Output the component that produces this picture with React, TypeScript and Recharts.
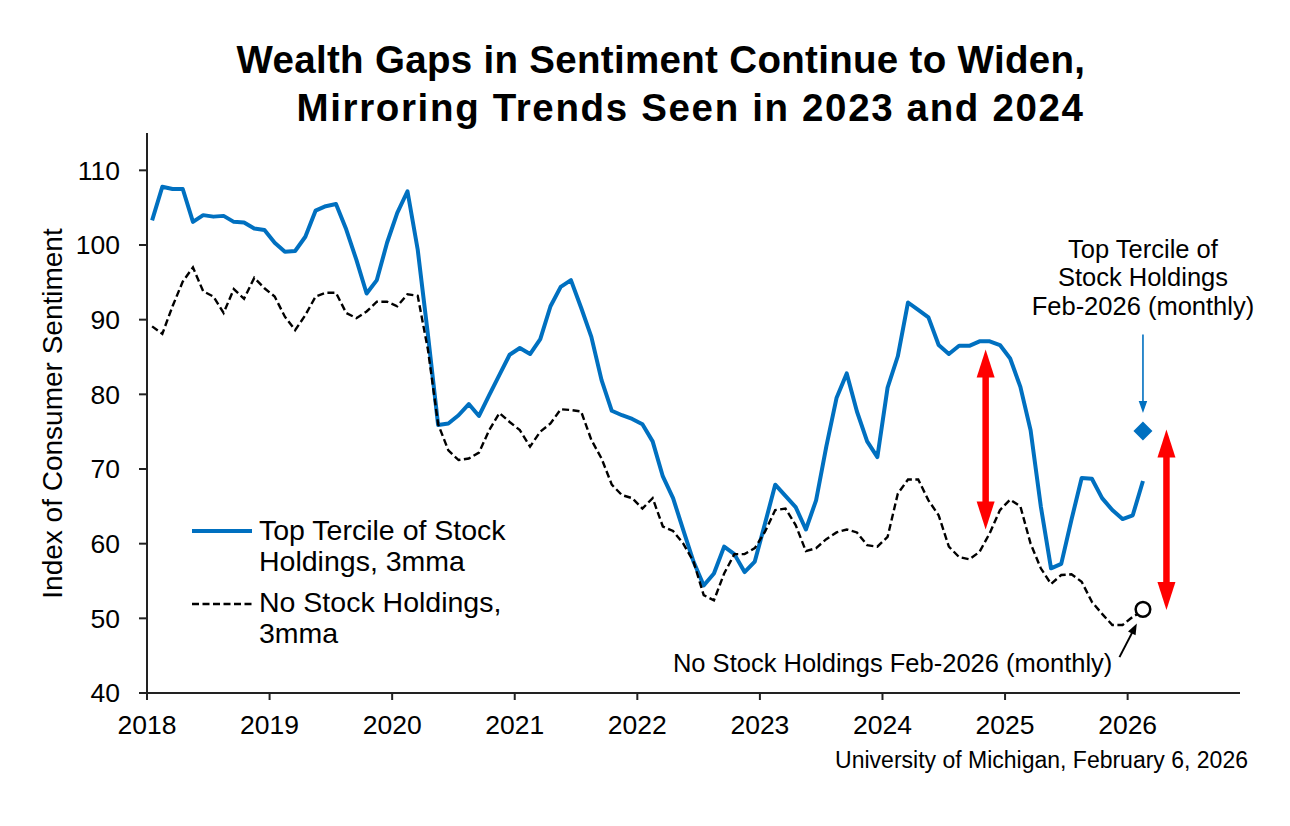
import React from "react";
import { LineChart, Line, XAxis, YAxis, ReferenceLine, ReferenceDot } from "recharts";

const FONT = "'Liberation Sans', Arial, sans-serif";

// tick labels
const years = ["2018", "2019", "2020", "2021", "2022", "2023", "2024", "2025", "2026"];
const yTicks = [40, 50, 60, 70, 80, 90, 100, 110];

// monthly index, 3-month moving average, Jan 2018 .. Feb 2026
const topTercile = [
  103.3, 107.8, 107.5, 107.5, 103.1, 104.0, 103.8, 103.9, 103.1, 103.0, 102.2, 102.0,
  100.3, 99.1, 99.2, 101.1, 104.6, 105.2, 105.5, 102.1, 98.0, 93.5, 95.3, 100.3,
  104.3, 107.2, 99.4, 88.0, 75.9, 76.1, 77.2, 78.7, 77.1, 79.9, 82.6, 85.3,
  86.2, 85.4, 87.4, 91.8, 94.4, 95.3, 91.6, 87.7, 81.9, 77.8, 77.2, 76.7,
  76.0, 73.7, 69.0, 66.1, 61.8, 57.6, 54.4, 56.0, 59.6, 58.6, 56.2, 57.6,
  62.7, 67.9, 66.4, 64.9, 61.9, 65.8, 73.0, 79.5, 82.8, 77.7, 73.7, 71.6,
  80.9, 85.1, 92.3, 91.3, 90.3, 86.6, 85.4, 86.5, 86.5, 87.1, 87.1, 86.6,
  84.8, 81.0, 75.2, 65.0, 56.7, 57.3, 63.2, 68.8, 68.7, 66.1, 64.5, 63.3,
  63.8, 68.4,
];
const noStock = [
  89.1, 88.1, 91.8, 95.1, 97.0, 93.8, 93.1, 90.9, 94.1, 92.8, 95.6, 94.2,
  93.1, 90.4, 88.6, 90.6, 93.1, 93.6, 93.6, 90.9, 90.2, 91.1, 92.4, 92.4,
  91.8, 93.4, 93.2, 86.0, 76.0, 72.5, 71.2, 71.4, 72.2, 75.2, 77.5, 76.3,
  75.2, 73.0, 75.0, 76.1, 78.0, 77.9, 77.7, 73.9, 71.4, 67.9, 66.5, 66.1,
  64.7, 66.1, 62.3, 61.7, 60.0, 57.6, 53.1, 52.4, 56.0, 58.6, 58.6, 59.4,
  61.6, 64.5, 64.7, 62.5, 59.0, 59.4, 60.6, 61.5, 61.9, 61.5, 59.8, 59.6,
  60.9, 66.7, 68.6, 68.6, 65.8, 63.8, 59.6, 58.2, 57.9, 58.9, 61.4, 64.5,
  65.9, 65.0, 60.0, 56.7, 54.6, 55.8, 55.9, 54.9, 52.2, 50.6, 49.1, 49.1,
  50.2, 51.0,
];

// Feb-2026 single-month readings
const febMonth = 97.5;
const febTop = 75.1;
const febNone = 51.2;

// annotation anchors, in chart units (months since Jan 2018, index value)
const gapArrows = [
  { m: 82.1, top: 86.0, bottom: 61.9 },
  { m: 99.8, top: 75.3, bottom: 51.1 },
];
const topNote = { m: 97.5, v: 98.3 };
const topPointer = { from: { m: 97.5, v: 88.0 }, to: { m: 97.5, v: 77.5 } };
const noneNote = { m: 94.5, v: 42.8 };
const nonePointer = { from: { m: 95.2, v: 44.8 }, to: { m: 96.9, v: 49.3 } };

const data = topTercile.map((v, i) => ({ m: i + 0.5, top: v, none: noStock[i] }));

const arrow = (color: string, width: number, headLen: number, headW: number, both: boolean) =>
  (p: any) => {
    const { x1, y1, x2, y2 } = p;
    const len = Math.hypot(x2 - x1, y2 - y1) || 1;
    const ux = (x2 - x1) / len;
    const uy = (y2 - y1) / len;
    const nx = -uy;
    const ny = ux;
    const head = (tx: number, ty: number, dx: number, dy: number) => {
      const bx = tx - dx * headLen;
      const by = ty - dy * headLen;
      return `${tx},${ty} ${bx + nx * headW / 2},${by + ny * headW / 2} ${bx - nx * headW / 2},${by - ny * headW / 2}`;
    };
    const sx = both ? x1 + ux * headLen * 0.9 : x1;
    const sy = both ? y1 + uy * headLen * 0.9 : y1;
    return (
      <g>
        <line x1={sx} y1={sy} x2={x2 - ux * headLen * 0.9} y2={y2 - uy * headLen * 0.9} stroke={color} strokeWidth={width} />
        <polygon points={head(x2, y2, ux, uy)} fill={color} />
        {both && <polygon points={head(x1, y1, -ux, -uy)} fill={color} />}
      </g>
    );
  };

const note = (lines: string[], anchor: "middle" | "end") => (p: any) => (
  <text x={p.cx} y={p.cy} textAnchor={anchor} fontSize={25.5} fontFamily={FONT} fill="#000">
    {lines.map((l, i) => (
      <tspan key={i} x={p.cx} dy={i === 0 ? 0 : 28.5}>{l}</tspan>
    ))}
  </text>
);

const diamond = (p: any) => {
  const s = 9.5;
  return <polygon points={`${p.cx},${p.cy - s} ${p.cx + s},${p.cy} ${p.cx},${p.cy + s} ${p.cx - s},${p.cy}`} fill="#0070C0" />;
};

export default function App() {
  return (
    <div style={{ position: "relative", width: 1290, height: 826, background: "#fff", fontFamily: FONT }}>
      <style>{"body{margin:0}"}</style>
      <LineChart width={1290} height={826} data={data} margin={{ top: 133, right: 50, left: 67, bottom: 73 }}>
        <XAxis
          dataKey="m"
          type="number"
          domain={[0, 107]}
          ticks={years.map((_, i) => i * 12)}
          tickFormatter={(v) => years[Math.round(v / 12)]}
          stroke="#222"
          strokeWidth={2}
          tickSize={7}
          tickMargin={15}
          height={60}
          tick={{ fill: "#000", fontSize: 26.5, fontFamily: FONT }}
        />
        <YAxis
          type="number"
          domain={[40, 115]}
          ticks={yTicks}
          stroke="#222"
          strokeWidth={2}
          tickSize={8}
          tickMargin={19}
          width={80}
          tick={{ fill: "#000", fontSize: 26.5, fontFamily: FONT }}
        />
        <Line type="linear" dataKey="top" stroke="#0070C0" strokeWidth={4} dot={false} isAnimationActive={false} strokeLinejoin="round" />
        <Line type="linear" dataKey="none" stroke="#000" strokeWidth={2.4} strokeDasharray="7 3.5" dot={false} isAnimationActive={false} />
        {gapArrows.map((a, i) => (
          <ReferenceLine key={i} segment={[{ x: a.m, y: a.top }, { x: a.m, y: a.bottom }]} shape={arrow("#FF0000", 6.5, 28, 18, true)} />
        ))}
        <ReferenceLine
          segment={[{ x: topPointer.from.m, y: topPointer.from.v }, { x: topPointer.to.m, y: topPointer.to.v }]}
          shape={arrow("#0070C0", 1.6, 12, 8.5, false)}
        />
        <ReferenceLine
          segment={[{ x: nonePointer.from.m, y: nonePointer.from.v }, { x: nonePointer.to.m, y: nonePointer.to.v }]}
          shape={arrow("#000", 2, 11, 8.5, false)}
        />
        <ReferenceDot x={febMonth} y={febTop} r={9} shape={diamond} />
        <ReferenceDot x={febMonth} y={febNone} r={7.3} fill="#fff" stroke="#000" strokeWidth={2.5} />
        <ReferenceDot x={topNote.m} y={topNote.v} r={0} shape={note(["Top Tercile of", "Stock Holdings", "Feb-2026 (monthly)"], "middle")} />
        <ReferenceDot x={noneNote.m} y={noneNote.v} r={0} shape={note(["No Stock Holdings Feb-2026 (monthly)"], "end")} />
      </LineChart>
      <svg width={1290} height={826} style={{ position: "absolute", left: 0, top: 0, pointerEvents: "none" }} fontFamily={FONT}>
        <text x={236.5} y={72.5} fontSize={38.5} fontWeight="bold" fill="#000" textLength={848.5} lengthAdjust="spacing">
          Wealth Gaps in Sentiment Continue to Widen,
        </text>
        <text x={296.5} y={121} fontSize={38.5} fontWeight="bold" fill="#000" textLength={786.5} lengthAdjust="spacing">
          Mirroring Trends Seen in 2023 and 2024
        </text>
        <text transform="translate(62,413.5) rotate(-90)" textAnchor="middle" fontSize={28} fill="#000">
          Index of Consumer Sentiment
        </text>
        <line x1={192} y1={531} x2={252} y2={531} stroke="#0070C0" strokeWidth={4} />
        <text x={259} y={540} fontSize={28.5} fill="#000">
          <tspan x={259}>Top Tercile of Stock</tspan>
          <tspan x={259} dy={31}>Holdings, 3mma</tspan>
        </text>
        <line x1={192} y1={604} x2={252} y2={604} stroke="#000" strokeWidth={2.4} strokeDasharray="7 3.5" />
        <text x={259} y={612} fontSize={28.5} fill="#000">
          <tspan x={259}>No Stock Holdings,</tspan>
          <tspan x={259} dy={31}>3mma</tspan>
        </text>
        <text x={1248} y={768} textAnchor="end" fontSize={23} fill="#000">
          University of Michigan, February 6, 2026
        </text>
      </svg>
    </div>
  );
}
